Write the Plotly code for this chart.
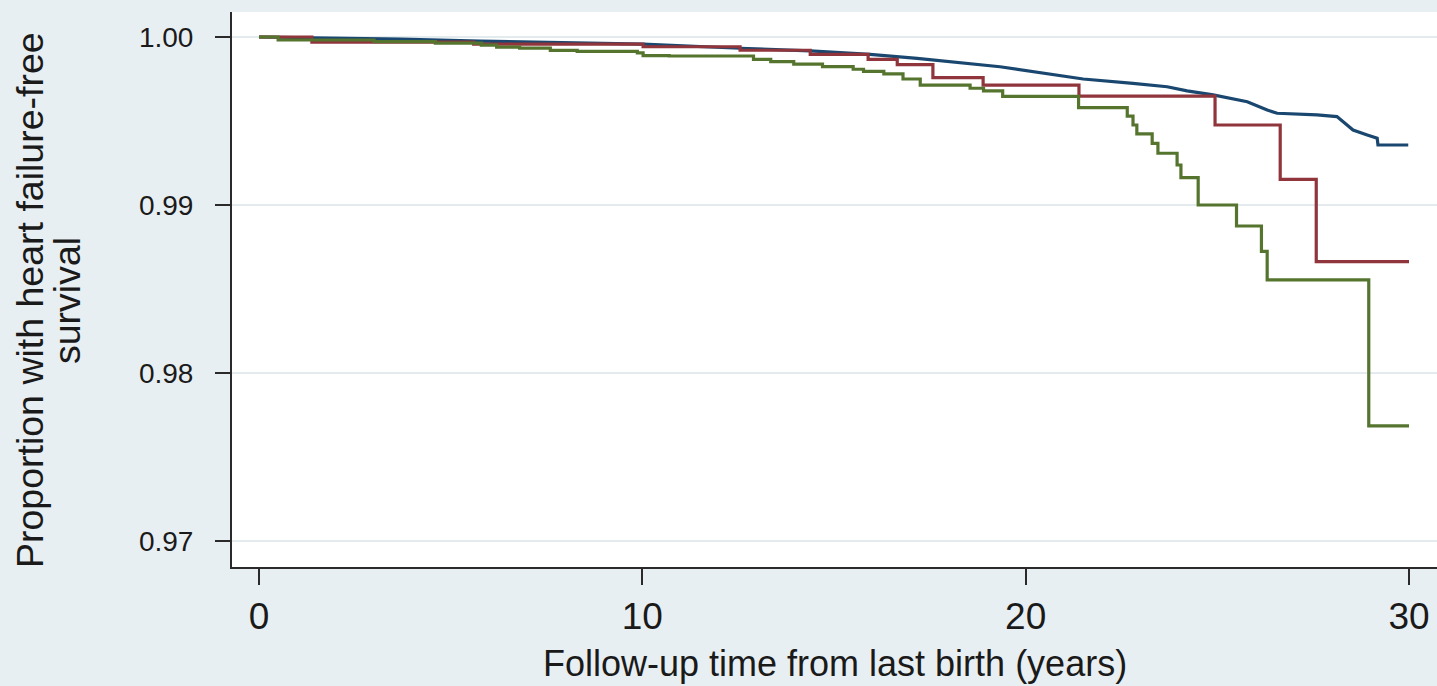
import plotly.graph_objects as go

# ---- data (years, survival proportion) ----
blue_t = [0, 3.68, 5.77, 10.02, 12.55, 14.38, 15.94, 17.17, 19.33, 20.45, 21.5, 22.8,
          23.69, 24.21, 24.89, 25.78, 26.3, 26.56, 27.6, 28.12, 28.28, 28.54, 28.91,
          29.17, 29.19, 29.98]
blue_s = [1.0, 0.99988, 0.99976, 0.99958, 0.99933, 0.99917, 0.99897, 0.99873, 0.99823,
          0.99784, 0.99750, 0.99724, 0.99704, 0.99679, 0.99655, 0.99615, 0.99565,
          0.99546, 0.99536, 0.99526, 0.99496, 0.99446, 0.99417, 0.99397, 0.99357,
          0.99357]

red_t = [0, 1.38, 5.6, 10.02, 12.55, 14.38, 15.89, 16.65, 17.58, 18.89, 21.39, 24.94,
         26.64, 27.58, 30.0]
red_s = [1.0, 0.99970, 0.99958, 0.99942, 0.99921, 0.99897, 0.99867, 0.99836, 0.99758,
         0.99713, 0.99648, 0.99476, 0.99153, 0.98663, 0.98663]

green_t = [0, 0.5, 3.0, 4.6, 5.8, 6.2, 6.8, 7.6, 8.3, 9.87, 10.02, 10.7, 12.9, 13.35,
           13.95, 14.7, 15.5, 15.77, 16.3, 16.8, 17.25, 18.55, 18.9, 19.4, 21.38, 22.65,
           22.8, 22.9, 23.3, 23.45, 23.95, 24.05, 24.5, 25.5, 26.15, 26.3, 28.95, 30.0]
green_s = [1.0, 0.99982, 0.99973, 0.99964, 0.99952, 0.99940, 0.99934, 0.99920, 0.99914,
           0.99905, 0.99889, 0.99887, 0.99867, 0.99853, 0.99838, 0.99824, 0.99808,
           0.99795, 0.99780, 0.99750, 0.99714, 0.99695, 0.99679, 0.99646, 0.99579,
           0.99529, 0.99476, 0.99423, 0.99367, 0.99308, 0.99238, 0.99163, 0.99000,
           0.98875, 0.98724, 0.98554, 0.97685, 0.97685]

x_ticks = [0, 10, 20, 30]
y_ticks = [0.97, 0.98, 0.99, 1.00]
y_tick_labels = ["0.97", "0.98", "0.99", "1.00"]

x_title = "Follow-up time from last birth (years)"
y_title_lines = ["Proportion with heart failure-free", "survival"]

NAVY = "#1a476f"
MAROON = "#90353b"
FOREST = "#55752f"
BG = "#e8eff2"
GRID = "#e3ebef"
AXIS = "#2a2a2a"
FONT = "Liberation Sans, Arial, sans-serif"

fig = go.Figure()
fig.add_trace(go.Scatter(x=blue_t, y=blue_s, mode="lines",
                         line=dict(color=NAVY, width=3.2, shape="linear")))
fig.add_trace(go.Scatter(x=red_t, y=red_s, mode="lines",
                         line=dict(color=MAROON, width=3.2, shape="hv")))
fig.add_trace(go.Scatter(x=green_t, y=green_s, mode="lines",
                         line=dict(color=FOREST, width=3.2, shape="hv")))

fig.update_layout(
    width=1437, height=686,
    margin=dict(l=232, r=0, t=12, b=119),
    paper_bgcolor=BG, plot_bgcolor="white",
    showlegend=False,
    font=dict(family=FONT, color="#1a1a1a"),
    xaxis=dict(range=[-0.704, 30.73], tickvals=x_ticks, showgrid=False,
               zeroline=False, showline=True, linecolor=AXIS, linewidth=2,
               ticks="outside", ticklen=16, tickwidth=2, tickcolor=AXIS,
               tickfont=dict(size=37, family=FONT, color="#1a1a1a")),
    yaxis=dict(range=[0.96845, 1.001488], tickvals=y_ticks, ticktext=y_tick_labels,
               showgrid=True, gridcolor=GRID, gridwidth=2, zeroline=False,
               showline=True, linecolor=AXIS, linewidth=2,
               ticks="outside", ticklen=15, tickwidth=2, tickcolor=AXIS,
               ticklabelstandoff=16,
               tickfont=dict(size=28, family=FONT, color="#1a1a1a")),
)

fig.add_annotation(text=x_title, xref="paper", yref="paper", x=0.5, y=-0.173,
                   xanchor="center", yanchor="middle", showarrow=False,
                   font=dict(size=36, family=FONT, color="#1a1a1a"))
fig.add_annotation(text=y_title_lines[0], xref="paper", yref="paper",
                   x=(30 - 232) / 1205, y=0.481, xanchor="center", yanchor="middle",
                   textangle=-90, showarrow=False,
                   font=dict(size=37.5, family=FONT, color="#1a1a1a"))
fig.add_annotation(text=y_title_lines[1], xref="paper", yref="paper",
                   x=(67 - 232) / 1205, y=0.481, xanchor="center", yanchor="middle",
                   textangle=-90, showarrow=False,
                   font=dict(size=37.5, family=FONT, color="#1a1a1a"))

fig.write_html("out.html",
               config={"displayModeBar": False},
               post_script="document.body.style.margin='0';"
                           "document.body.style.overflow='hidden';")
